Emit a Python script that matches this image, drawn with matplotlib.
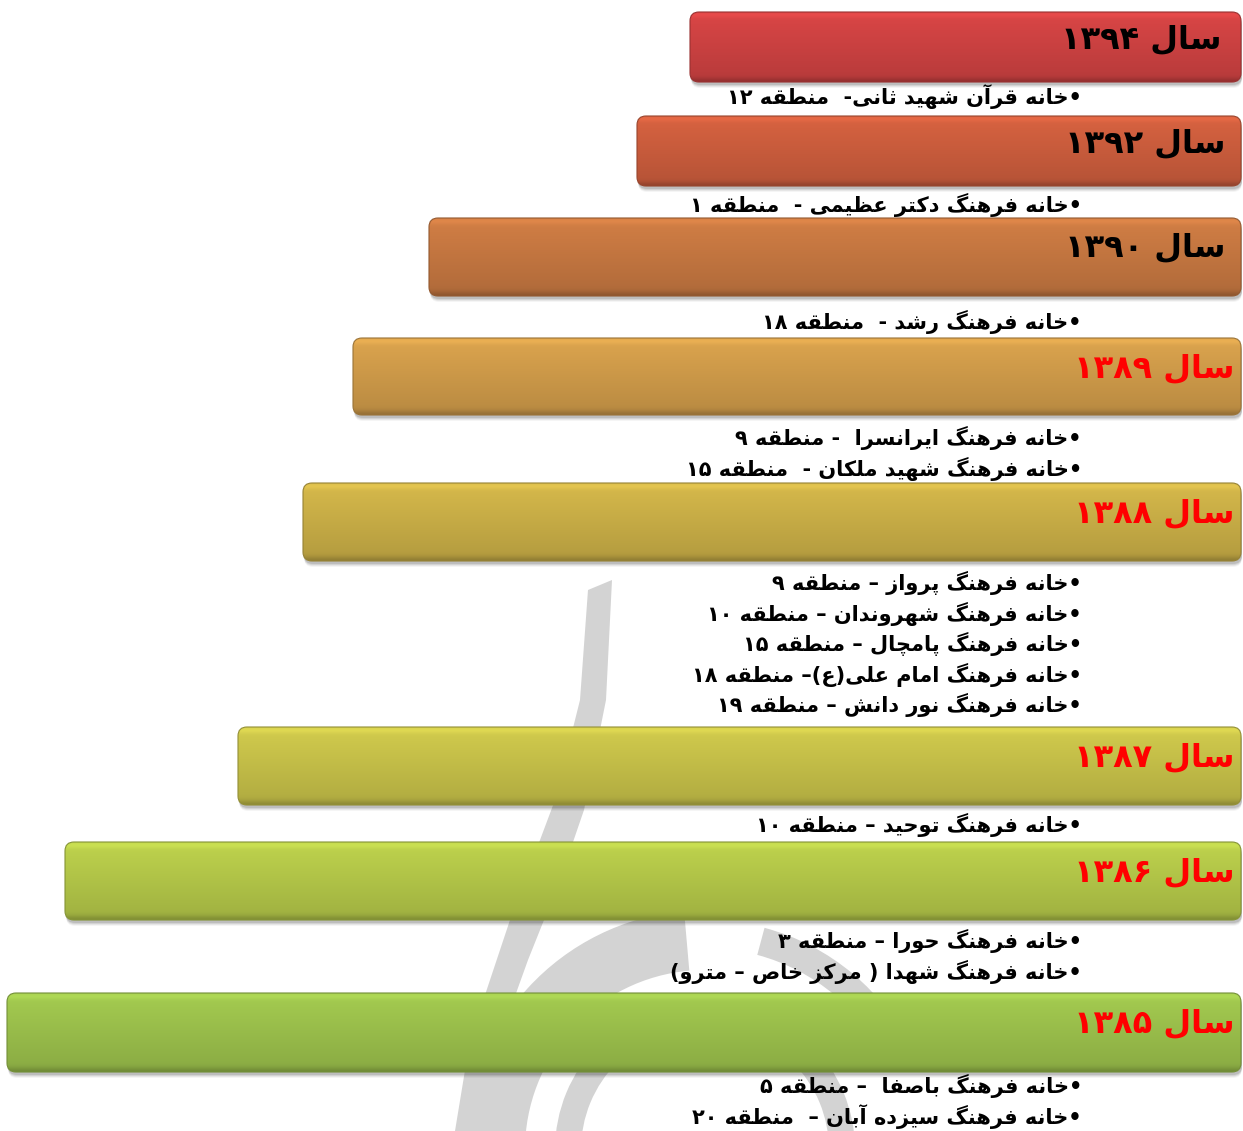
import numpy as np
import matplotlib
matplotlib.use("Agg")
import matplotlib.pyplot as plt
from matplotlib.patches import FancyBboxPatch, Polygon, Wedge
from matplotlib.colors import to_rgb

# data
years = ['۱۳۹۴', '۱۳۹۲', '۱۳۹۰', '۱۳۸۹', '۱۳۸۸', '۱۳۸۷', '۱۳۸۶', '۱۳۸۵']
bar_left = [690, 637, 429, 353, 303, 238, 65, 7]
bar_colors = ['#d44444', '#d2603f', '#cc7b43', '#d6a04c',
              '#d0b449', '#ccc64b', '#b9cd4b', '#a0c64e']
year_colors = ['black', 'black', 'black', 'red', 'red', 'red', 'red', 'red']
items = [
    ['خانه قرآن شهید ثانی-  منطقه ۱۲'],
    ['خانه فرهنگ دکتر عظیمی -  منطقه ۱'],
    ['خانه فرهنگ رشد -  منطقه ۱۸'],
    ['خانه فرهنگ ایرانسرا  - منطقه ۹',
     'خانه فرهنگ شهید ملکان -  منطقه ۱۵'],
    ['خانه فرهنگ پرواز – منطقه ۹',
     'خانه فرهنگ شهروندان – منطقه ۱۰',
     'خانه فرهنگ پامچال – منطقه ۱۵',
     'خانه فرهنگ امام علی(ع)– منطقه ۱۸',
     'خانه فرهنگ نور دانش – منطقه ۱۹'],
    ['خانه فرهنگ توحید – منطقه ۱۰'],
    ['خانه فرهنگ حورا – منطقه ۳',
     'خانه فرهنگ شهدا ( مرکز خاص – مترو)'],
    ['خانه فرهنگ باصفا  – منطقه ۵',
     'خانه فرهنگ سیزده آبان –  منطقه ۲۰'],
]

# layout (pixels)
bar_top = [12, 116, 218, 338, 483, 727, 842, 993]
bar_h = [70, 70, 78, 77, 78, 78, 78, 79]
item_y0 = [97, 205, 322, 438, 583, 825, 941, 1086]
year_right = [1222, 1226, 1226, 1235, 1235, 1235, 1235, 1235]
year_dy = [28, 28, 30, 31, 31, 31, 31, 31]

# --- simple persian shaping (matplotlib has no arabic shaping) ---
FORMS = {
    'ا': (0xFE8D, 0xFE8E, None, None), 'آ': (0xFE81, 0xFE82, None, None),
    'ب': (0xFE8F, 0xFE90, 0xFE91, 0xFE92), 'پ': (0xFB56, 0xFB57, 0xFB58, 0xFB59),
    'ت': (0xFE95, 0xFE96, 0xFE97, 0xFE98), 'ث': (0xFE99, 0xFE9A, 0xFE9B, 0xFE9C),
    'ج': (0xFE9D, 0xFE9E, 0xFE9F, 0xFEA0), 'چ': (0xFB7A, 0xFB7B, 0xFB7C, 0xFB7D),
    'ح': (0xFEA1, 0xFEA2, 0xFEA3, 0xFEA4), 'خ': (0xFEA5, 0xFEA6, 0xFEA7, 0xFEA8),
    'د': (0xFEA9, 0xFEAA, None, None), 'ذ': (0xFEAB, 0xFEAC, None, None),
    'ر': (0xFEAD, 0xFEAE, None, None), 'ز': (0xFEAF, 0xFEB0, None, None),
    'ژ': (0xFB8A, 0xFB8B, None, None),
    'س': (0xFEB1, 0xFEB2, 0xFEB3, 0xFEB4), 'ش': (0xFEB5, 0xFEB6, 0xFEB7, 0xFEB8),
    'ص': (0xFEB9, 0xFEBA, 0xFEBB, 0xFEBC), 'ض': (0xFEBD, 0xFEBE, 0xFEBF, 0xFEC0),
    'ط': (0xFEC1, 0xFEC2, 0xFEC3, 0xFEC4), 'ظ': (0xFEC5, 0xFEC6, 0xFEC7, 0xFEC8),
    'ع': (0xFEC9, 0xFECA, 0xFECB, 0xFECC), 'غ': (0xFECD, 0xFECE, 0xFECF, 0xFED0),
    'ف': (0xFED1, 0xFED2, 0xFED3, 0xFED4), 'ق': (0xFED5, 0xFED6, 0xFED7, 0xFED8),
    'ک': (0xFB8E, 0xFB8F, 0xFB90, 0xFB91), 'گ': (0xFB92, 0xFB93, 0xFB94, 0xFB95),
    'ل': (0xFEDD, 0xFEDE, 0xFEDF, 0xFEE0), 'م': (0xFEE1, 0xFEE2, 0xFEE3, 0xFEE4),
    'ن': (0xFEE5, 0xFEE6, 0xFEE7, 0xFEE8), 'و': (0xFEED, 0xFEEE, None, None),
    'ه': (0xFEE9, 0xFEEA, 0xFEEB, 0xFEEC), 'ی': (0xFBFC, 0xFBFD, 0xFBFE, 0xFBFF),
}
LAM_ALEF = {'ا': (0xFEFB, 0xFEFC), 'آ': (0xFEF5, 0xFEF6)}


def joins_left(c):
    return c in FORMS and FORMS[c][2] is not None


def shape(s):
    out = []
    i = 0
    while i < len(s):
        c = s[i]
        prev = s[i - 1] if i > 0 else ''
        nxt = s[i + 1] if i + 1 < len(s) else ''
        pj = joins_left(prev)
        if c == 'ل' and nxt in LAM_ALEF:
            out.append(chr(LAM_ALEF[nxt][1 if pj else 0]))
            i += 2
            continue
        if c in FORMS:
            iso, fin, ini, med = FORMS[c]
            nj = nxt in FORMS and ini is not None
            if pj and nj:
                out.append(chr(med))
            elif pj:
                out.append(chr(fin))
            elif nj:
                out.append(chr(ini))
            else:
                out.append(chr(iso))
        else:
            out.append(c)
        i += 1
    return ''.join(out)


def visual(s):
    # shape, then reverse for right-to-left display (digit runs stay in order)
    s = shape(s)
    toks = []
    for c in s:
        if c.isdigit() and toks and toks[-1][0].isdigit():
            toks[-1] += c
        else:
            toks.append(c)
    toks = toks[::-1]
    swap = {'(': ')', ')': '('}
    return ''.join(swap.get(t, t) for t in toks)


def draw_bar(ax, x0, x1, y0, y1, color, z):
    r = 9
    # soft shadow
    for k, a in [(8, 0.04), (6, 0.06), (4, 0.08), (2, 0.10)]:
        sh = FancyBboxPatch((x0 + 1, y0 + 2 + k * 0.5), x1 - x0, y1 - y0,
                            boxstyle=f"round,pad=0,rounding_size={r}",
                            fc='black', ec='none', alpha=a, zorder=z)
        ax.add_patch(sh)
    patch = FancyBboxPatch((x0, y0), x1 - x0, y1 - y0,
                           boxstyle=f"round,pad=0,rounding_size={r}",
                           fc='none', ec=np.array(to_rgb(color)) * 0.72, lw=0.8,
                           zorder=z + 0.2)
    ax.add_patch(patch)
    n = 200
    t = np.linspace(0, 1, n)
    f = 1.03 - 0.17 * t
    f = f + 0.07 * np.exp(-((t - 0.04) / 0.04) ** 2)
    f = f - 0.16 * np.exp(-((t - 1.0) / 0.06) ** 2)
    col = np.clip(np.outer(f, to_rgb(color)), 0, 1).reshape(n, 1, 3)
    im = ax.imshow(col, extent=(x0, x1, y1, y0), origin='upper',
                   aspect='auto', interpolation='bilinear', zorder=z + 0.1)
    clip = FancyBboxPatch((x0, y0), x1 - x0, y1 - y0,
                          boxstyle=f"round,pad=0,rounding_size={r}",
                          fc='none', ec='none', transform=ax.transData)
    im.set_clip_path(clip)


fig = plt.figure(figsize=(12.43, 11.31), dpi=100)
ax = fig.add_axes([0, 0, 1, 1])
W, H = 1243, 1131

# faint watermark in the background
wm = '#d3d3d3'
ax.add_patch(Polygon([(588, 590), (612, 580), (606, 700), (584, 810),
                      (560, 880), (528, 960), (492, 1060), (480, 1131),
                      (455, 1131), (470, 1040), (510, 920), (555, 800),
                      (580, 700)],
                     closed=True, fc=wm, ec='none', zorder=0))
ax.add_patch(Wedge((705, 1150), 240, 95, 265, width=60, fc=wm, ec='none', zorder=0))
ax.add_patch(Wedge((705, 1150), 230, 285, 335, width=28, fc=wm, ec='none', zorder=0))
ax.add_patch(Wedge((705, 1150), 150, 0, 360, width=26, fc=wm, ec='none', zorder=0))

font = dict(family=['DejaVu Sans'], weight='bold')
for i in range(len(years)):
    z = 2 + i * 3
    y0 = bar_top[i]
    y1 = y0 + bar_h[i]
    draw_bar(ax, bar_left[i], 1241, y0, y1, bar_colors[i], z)
    ax.text(year_right[i], y0 + year_dy[i], visual('سال ' + years[i]), ha='right',
            va='center', fontsize=23, color=year_colors[i], zorder=z + 1,
            **font)
    for j, it in enumerate(items[i]):
        ax.text(1082, item_y0[i] + j * 30.5, visual('•' + it), ha='right',
                va='center', fontsize=15, color='black', zorder=z + 1, **font)

ax.set_xlim(0, W)
ax.set_ylim(H, 0)
ax.axis('off')
fig.savefig('out.png', dpi=100, facecolor='white')
